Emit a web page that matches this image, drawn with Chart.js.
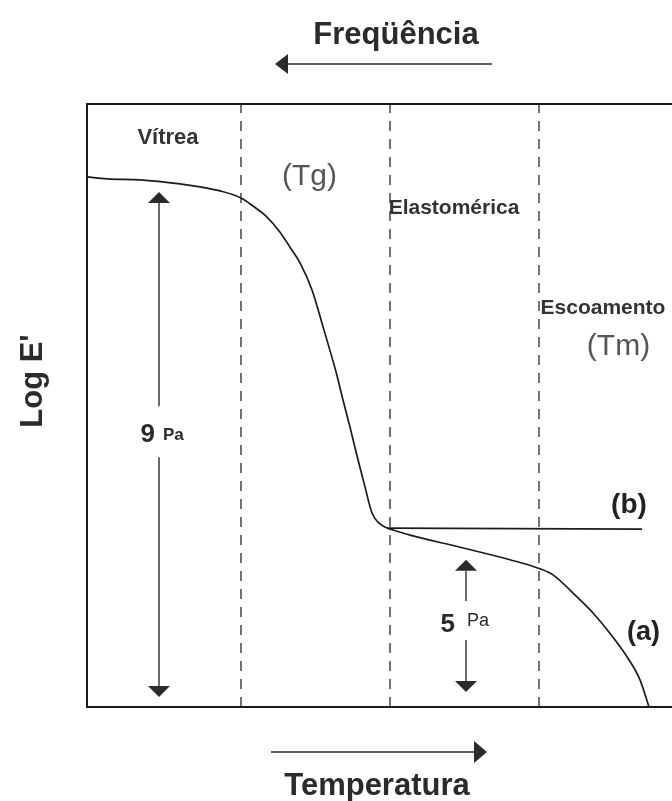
<!DOCTYPE html>
<html lang="pt">
<head>
<meta charset="utf-8">
<title>Log E' x Temperatura</title>
<script src="https://cdn.jsdelivr.net/npm/chart.js@4"></script>
<style>
  html, body { margin: 0; padding: 0; background: #fff; overflow: hidden; }
  canvas { display: block; }
</style>
</head>
<body>
<canvas id="c" width="672" height="801"></canvas>
<script>
// Temperature (arbitrary units) and Log E' (arbitrary units)
const transitionT = [0, 4, 10.6, 18.6, 22.6, 26.6, 30.8, 33.2, 36, 38.6, 40.6, 42.6, 45, 47.4, 49.8, 51.2, 52.6, 54.2, 55.6, 57, 58.2, 60];
const transitionLogE = [10.55, 10.51, 10.49, 10.41, 10.35, 10.27, 10.13, 9.97, 9.75, 9.45, 9.15, 8.84, 8.3, 7.5, 6.67, 6.11, 5.57, 4.92, 4.38, 3.86, 3.68, 3.56];

// curve (a): un-crosslinked polymer, flows above Tm
const curveAT = [60, 64.6, 74.6, 84.6, 90.6, 93.2, 98, 101.2, 105.2, 108, 110.6, 112.4];
const curveALogE = [3.56, 3.42, 3.18, 2.93, 2.75, 2.63, 2.19, 1.87, 1.39, 1.0, 0.54, 0];

// curve (b): crosslinked polymer, rubbery plateau persists
const curveBT = [60, 111];
const curveBLogE = [3.56, 3.54];

// region boundaries (dashed lines)
const boundaryT = [30.8, 60.6, 90.4];
const logEMin = 0;
const logEMax = 12;
const tMin = 0;
const tMax = 117;

// double-headed arrows: temperature, low and high ends, label
const spanT = [14.4, 75.8];
const spanLow = [0.2, 0.3];
const spanHigh = [10.25, 2.93];
const spanNumber = ['9', '5'];
const spanUnit = ['Pa', 'Pa'];

const zip = (xs, ys) => xs.map((x, i) => ({ x, y: ys[i] }));

const INK = '#1b1b1b';
const FONT = "'Liberation Sans', Arial, sans-serif";

const datasets = [];
boundaryT.forEach(t => {
  datasets.push({
    data: [{ x: t, y: logEMin }, { x: t, y: logEMax }],
    borderColor: '#2a2a2a', borderWidth: 1.3, borderDash: [10, 8],
    pointRadius: 0, showLine: true, tension: 0
  });
});
[[transitionT, transitionLogE], [curveAT, curveALogE], [curveBT, curveBLogE]].forEach(([xs, ys]) => {
  datasets.push({
    data: zip(xs, ys),
    borderColor: INK, borderWidth: 1.7,
    pointRadius: 0, showLine: true,
    cubicInterpolationMode: 'monotone'
  });
});

function tri(ctx, pts) {
  ctx.beginPath();
  ctx.moveTo(pts[0][0], pts[0][1]);
  ctx.lineTo(pts[1][0], pts[1][1]);
  ctx.lineTo(pts[2][0], pts[2][1]);
  ctx.closePath();
  ctx.fill();
}

const decorations = {
  id: 'decorations',
  afterDatasetsDraw(chart) {
    const { ctx, chartArea: a, scales: { x, y } } = chart;
    ctx.save();

    // frame (right side runs past the page edge)
    ctx.strokeStyle = INK;
    ctx.lineWidth = 2;
    ctx.beginPath();
    ctx.moveTo(a.right + 2, a.top);
    ctx.lineTo(a.left, a.top);
    ctx.lineTo(a.left, a.bottom);
    ctx.lineTo(a.right + 2, a.bottom);
    ctx.stroke();

    // vertical double arrows with their labels
    const spanStyle = [
      { gapUp: 27, gapDown: 24, numOff: -4, unitOff: 4, numBase: 9, unitBase: 7, unitFont: 'bold 17px ' + FONT, textCenterT: 5.45 },
      { gapUp: 19, gapDown: 20, numOff: -11, unitOff: 1, numBase: 12, unitBase: 6, unitFont: '18px ' + FONT, textCenterT: 1.73 }
    ];
    ctx.fillStyle = '#2b2b2b';
    ctx.strokeStyle = '#2b2b2b';
    ctx.lineWidth = 1.4;
    spanT.forEach((t, i) => {
      const s = spanStyle[i];
      const px = x.getPixelForValue(t);
      const top = y.getPixelForValue(spanHigh[i]);
      const bot = y.getPixelForValue(spanLow[i]);
      const mid = y.getPixelForValue(s.textCenterT);
      const hw = 11, hh = 11;
      ctx.beginPath();
      ctx.moveTo(px, top + hh);
      ctx.lineTo(px, mid - s.gapUp);
      ctx.moveTo(px, mid + s.gapDown);
      ctx.lineTo(px, bot - hh);
      ctx.stroke();
      tri(ctx, [[px, top], [px - hw, top + hh], [px + hw, top + hh]]);
      tri(ctx, [[px, bot], [px - hw, bot - hh], [px + hw, bot - hh]]);
      ctx.textBaseline = 'alphabetic';
      ctx.font = 'bold 26px ' + FONT;
      ctx.textAlign = 'right';
      ctx.fillText(spanNumber[i], px + s.numOff, mid + s.numBase);
      ctx.font = s.unitFont;
      ctx.textAlign = 'left';
      ctx.fillText(spanUnit[i], px + s.unitOff, mid + s.unitBase);
    });

    // region names and transition labels
    const texts = [
      { s: 'Vítrea', t: 16.2, v: 11.32, font: 'bold 22px ' + FONT, color: '#333' },
      { s: 'Elastomérica', t: 73.4, v: 9.93, font: 'bold 21px ' + FONT, color: '#333' },
      { s: 'Escoamento', t: 103.2, v: 7.94, font: 'bold 21px ' + FONT, color: '#333' },
      { s: '(Tg)', t: 44.5, v: 10.55, font: '30px ' + FONT, color: '#555' },
      { s: '(Tm)', t: 106.3, v: 7.16, font: '30px ' + FONT, color: '#555' },
      { s: '(b)', t: 108.4, v: 4.02, font: 'bold 28px ' + FONT, color: '#222' },
      { s: '(a)', t: 111.3, v: 1.49, font: 'bold 27px ' + FONT, color: '#222' }
    ];
    ctx.textAlign = 'center';
    ctx.textBaseline = 'middle';
    texts.forEach(o => {
      ctx.font = o.font;
      ctx.fillStyle = o.color;
      ctx.fillText(o.s, x.getPixelForValue(o.t), y.getPixelForValue(o.v));
    });

    // frequency (top) and temperature (bottom) directions
    ctx.fillStyle = '#2b2b2b';
    ctx.strokeStyle = '#2b2b2b';
    ctx.lineWidth = 1.6;
    ctx.font = 'bold 31px ' + FONT;
    ctx.textAlign = 'center';
    ctx.textBaseline = 'alphabetic';
    ctx.fillText('Freqüência', 396, 44);
    ctx.beginPath();
    ctx.moveTo(492, 64); ctx.lineTo(285, 64); ctx.stroke();
    tri(ctx, [[275, 64], [288, 54], [288, 74]]);

    ctx.fillText('Temperatura', 377, 795);
    ctx.beginPath();
    ctx.moveTo(271, 752); ctx.lineTo(477, 752); ctx.stroke();
    tri(ctx, [[487, 752], [474, 741], [474, 763]]);

    // vertical axis name
    ctx.save();
    ctx.translate(42, 381);
    ctx.rotate(-Math.PI / 2);
    ctx.fillText("Log E'", 0, 0);
    ctx.restore();

    ctx.restore();
  }
};

new Chart(document.getElementById('c'), {
  type: 'scatter',
  data: { datasets },
  options: {
    responsive: false,
    animation: false,
    events: [],
    layout: { padding: { left: 87, top: 104, right: 0, bottom: 94 } },
    plugins: { legend: { display: false }, tooltip: { enabled: false } },
    scales: {
      x: { type: 'linear', min: tMin, max: tMax, display: false },
      y: { type: 'linear', min: logEMin, max: logEMax, display: false }
    }
  },
  plugins: [decorations]
});
</script>
</body>
</html>
